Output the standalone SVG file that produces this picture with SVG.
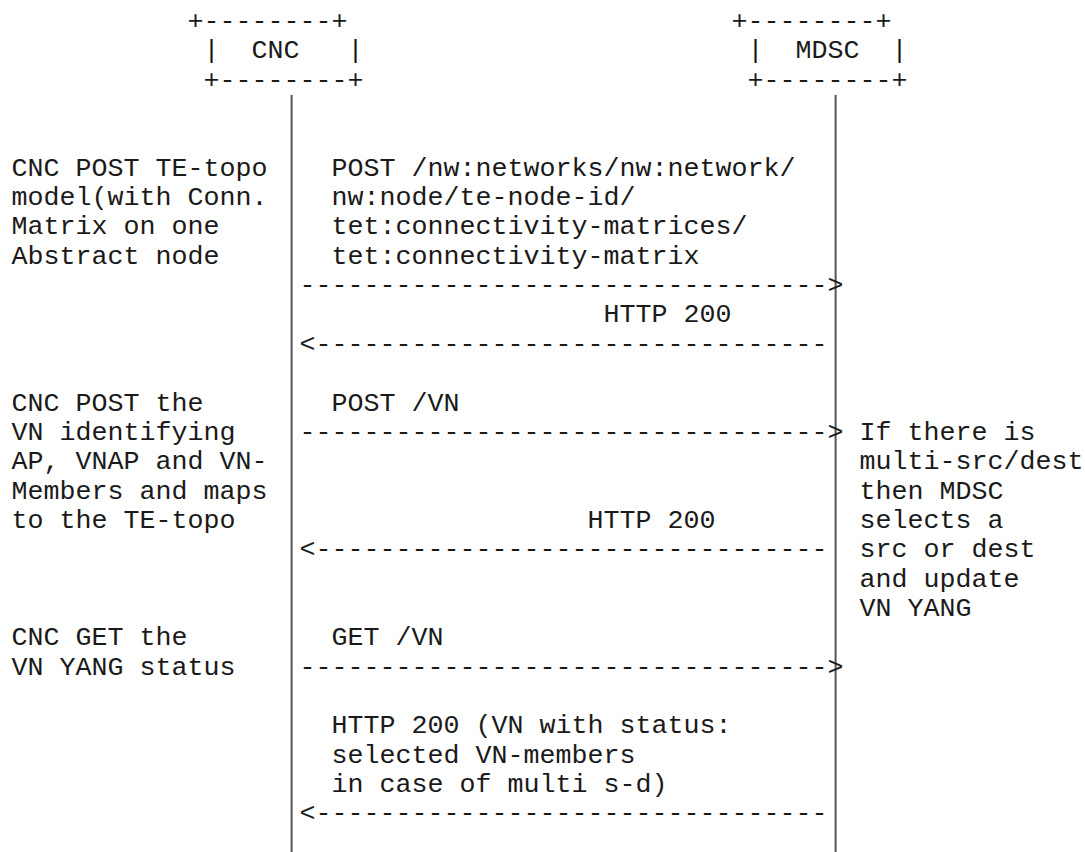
<svg xmlns="http://www.w3.org/2000/svg" width="1085" height="852" viewBox="0 0 1085 852">
<style>
text { font-family: "Liberation Mono", "Courier New", monospace; font-size: 26.67px; fill: #1a1a1a; white-space: pre; }
.life { stroke: #555; stroke-width: 2; }
</style>
<rect width="1085" height="852" fill="#ffffff"/>
<g id="connectors">
  <line class="life" x1="291.6" y1="95" x2="291.6" y2="852"/>
  <line class="life" x1="835.6" y1="95" x2="835.6" y2="852"/>
  <text x="299.6" y="293.1" xml:space="preserve">---------------------------------&gt;</text>
  <text x="299.6" y="351.8" xml:space="preserve">&lt;--------------------------------</text>
  <text x="299.6" y="439.85" xml:space="preserve">---------------------------------&gt;</text>
  <text x="299.6" y="557.25" xml:space="preserve">&lt;--------------------------------</text>
  <text x="299.6" y="674.65" xml:space="preserve">---------------------------------&gt;</text>
  <text x="299.6" y="821.4" xml:space="preserve">&lt;--------------------------------</text>
</g>
<g id="node-cnc">
  <text x="187.6" y="28.95" xml:space="preserve">+--------+</text>
  <text x="203.6" y="58.3" xml:space="preserve">|  CNC   |</text>
  <text x="203.6" y="87.65" xml:space="preserve">+--------+</text>
</g>
<g id="node-mdsc">
  <text x="731.6" y="28.95" xml:space="preserve">+--------+</text>
  <text x="747.6" y="58.3" xml:space="preserve">|  MDSC  |</text>
  <text x="747.6" y="87.65" xml:space="preserve">+--------+</text>
</g>
<g id="step1-note">
  <text x="11.6" y="175.7">CNC POST TE-topo</text>
  <text x="11.6" y="205.05">model(with Conn.</text>
  <text x="11.6" y="234.4">Matrix on one</text>
  <text x="11.6" y="263.75">Abstract node</text>
</g>
<g id="step1-request">
  <text x="331.6" y="175.7">POST /nw:networks/nw:network/</text>
  <text x="331.6" y="205.05">nw:node/te-node-id/</text>
  <text x="331.6" y="234.4">tet:connectivity-matrices/</text>
  <text x="331.6" y="263.75">tet:connectivity-matrix</text>
</g>
<g id="step1-response">
  <text x="603.6" y="322.45">HTTP 200</text>
</g>
<g id="step2-note">
  <text x="11.6" y="410.5">CNC POST the</text>
  <text x="11.6" y="439.85">VN identifying</text>
  <text x="11.6" y="469.2">AP, VNAP and VN-</text>
  <text x="11.6" y="498.55">Members and maps</text>
  <text x="11.6" y="527.9">to the TE-topo</text>
</g>
<g id="step2-request">
  <text x="331.6" y="410.5">POST /VN</text>
</g>
<g id="step2-response">
  <text x="587.6" y="527.9">HTTP 200</text>
</g>
<g id="mdsc-note">
  <text x="859.6" y="439.85">If there is</text>
  <text x="859.6" y="469.2">multi-src/dest</text>
  <text x="859.6" y="498.55">then MDSC</text>
  <text x="859.6" y="527.9">selects a</text>
  <text x="859.6" y="557.25">src or dest</text>
  <text x="859.6" y="586.6">and update</text>
  <text x="859.6" y="615.95">VN YANG</text>
</g>
<g id="step3-note">
  <text x="11.6" y="645.3">CNC GET the</text>
  <text x="11.6" y="674.65">VN YANG status</text>
</g>
<g id="step3-request">
  <text x="331.6" y="645.3">GET /VN</text>
</g>
<g id="step3-response">
  <text x="331.6" y="733.35">HTTP 200 (VN with status:</text>
  <text x="331.6" y="762.7">selected VN-members</text>
  <text x="331.6" y="792.05">in case of multi s-d)</text>
</g>
</svg>
